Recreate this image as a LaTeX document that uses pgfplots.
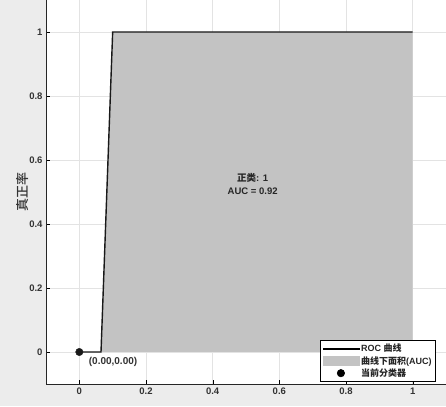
\documentclass[border=0pt]{standalone}
\usepackage{pgfplots}
\pgfplotsset{compat=1.18}
\usepackage{fontspec}
\setmainfont{Liberation Sans}
\newfontfamily\cjk{Noto Sans CJK SC}
\newfontfamily\cjkb{Noto Sans CJK SC Medium}
\definecolor{aucgray}{RGB}{195,195,195}
\definecolor{bggray}{RGB}{236,236,236}
\begin{document}
\begin{tikzpicture}[x=1pt,y=1pt]
\fill[bggray] (-46,-22) rectangle (400,384);
\useasboundingbox (-46,-22) rectangle (400,384);
\begin{axis}[
  at={(0,0)}, anchor=south west,
  scale only axis, width=400pt, height=384pt,
  xmin=-0.1, xmax=1.1, ymin=-0.1, ymax=1.1,
  axis lines=left, axis line style={-, black!85, line width=0.7pt},
  axis background/.style={fill=white},
  xtick={0,0.2,0.4,0.6,0.8,1}, ytick={0,0.2,0.4,0.6,0.8,1},
  grid=major, major grid style={gray!22, line width=0.5pt},
  tick style={black}, tick align=inside,
  /pgf/number format/assume math mode=true,
  tick label style={font=\fontsize{9.5}{11}\selectfont\bfseries, text=black!80},
  ylabel={\cjkb 真正率}, ylabel style={font=\fontsize{13}{14}\selectfont, text=black!80, anchor=center, at={(axis description cs:-0.058,0.5)}},
  legend style={at={(0.975,0.005)}, anchor=south east, draw=black, line width=0.6pt,
     font=\fontsize{9}{10}\selectfont\bfseries, text=black!85, row sep=-1pt, inner sep=2pt},
  legend cell align=left,
]
\addplot[fill=aucgray, draw=none, forget plot] coordinates {(0,0) (0.065,0) (0.1,1) (1,1)} \closedcycle;
\addplot[black!90, line width=1.4pt, mark=none, forget plot] coordinates {(0,0) (0.065,0) (0.1,1) (1,1)};
\addplot[only marks, mark=*, mark size=3.7pt, black!90, forget plot] coordinates {(0,0)};
\addlegendimage{legend image code/.code={\fill[black] (0pt,-0.9pt) rectangle (36pt,0.9pt);}}
\addlegendentry{ROC {\cjkb 曲线}}
\addlegendimage{legend image code/.code={\fill[aucgray] (0pt,-4.5pt) rectangle (36pt,4.5pt);}}
\addlegendentry{{\cjkb 曲线下面积}(AUC)}
\addlegendimage{legend image code/.code={\fill[black] (18pt,0pt) circle (3.7pt);}}
\addlegendentry{{\cjkb 当前分类器}}
\node[anchor=north west, font=\fontsize{10}{11}\selectfont\bfseries, text=black!80, inner sep=1pt] at (axis cs:0.025,-0.014) {(0.00,0.00)};
\node[align=center, font=\fontsize{9.5}{13}\selectfont\bfseries, text=black!85] at (axis cs:0.52,0.525) {{\cjkb 正类}: 1\\AUC = 0.92};
\end{axis}
\end{tikzpicture}
\end{document}
